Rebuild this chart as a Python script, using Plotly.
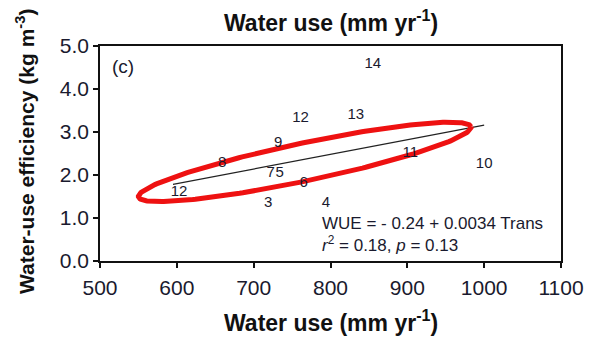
import numpy as np
import plotly.graph_objects as go

# ---- data ----
site_labels = ["12", "8", "9", "7", "5", "6", "3", "4", "12", "13", "14", "11", "10"]
water_use = [603, 659, 732, 722, 734, 765, 719, 794, 761, 833, 855, 904, 1000]
wue = [1.60, 2.28, 2.74, 2.05, 2.05, 1.81, 1.35, 1.35, 3.33, 3.40, 4.58, 2.51, 2.26]

fit_intercept = -0.24
fit_slope = 0.0034
fit_x_range = [595, 1000]

x_ticks = [500, 600, 700, 800, 900, 1000, 1100]
y_ticks = [0.0, 1.0, 2.0, 3.0, 4.0, 5.0]

# highlight ellipse (data units for tips, pixel half thickness)
ellipse_tip_left = (550, 1.49)
ellipse_tip_right = (983, 3.12)
ellipse_half_thickness_px = 19

W, H = 596, 337
ML, MR, MT, MB = 100, 29, 46, 76
XR = [500, 1100]
YR = [0, 5]
pw = W - ML - MR
ph = H - MT - MB
sx = pw / (XR[1] - XR[0])
sy = ph / (YR[1] - YR[0])

font_family = "Liberation Sans, Arial, sans-serif"
txt_color = "#1a1a2e"

fig = go.Figure()

# regression line
fx = np.array(fit_x_range, dtype=float)
fy = fit_intercept + fit_slope * fx
fig.add_trace(go.Scatter(x=fx, y=fy, mode="lines",
                         line=dict(color="#222222", width=1.2),
                         hoverinfo="skip", showlegend=False))

# ellipse in pixel space -> data
p1 = np.array([(ellipse_tip_left[0] - XR[0]) * sx, ellipse_tip_left[1] * sy])
p2 = np.array([(ellipse_tip_right[0] - XR[0]) * sx, ellipse_tip_right[1] * sy])
c = (p1 + p2) / 2
a = np.linalg.norm(p2 - p1) / 2
th = np.arctan2(p2[1] - p1[1], p2[0] - p1[0])
b = ellipse_half_thickness_px
t = np.linspace(0, 2 * np.pi, 300)
ex = c[0] + a * np.cos(t) * np.cos(th) - b * np.sin(t) * np.sin(th)
ey = c[1] + a * np.cos(t) * np.sin(th) + b * np.sin(t) * np.cos(th)
fig.add_trace(go.Scatter(x=XR[0] + ex / sx, y=ey / sy, mode="lines",
                         line=dict(color="#ee1111", width=5),
                         hoverinfo="skip", showlegend=False))

# site labels
fig.add_trace(go.Scatter(x=water_use, y=wue, mode="text", text=site_labels,
                         textposition="middle center",
                         textfont=dict(family=font_family, size=15, color=txt_color),
                         showlegend=False))

axis_common = dict(
    showline=True, linecolor="#111111", linewidth=1.5, mirror=True,
    ticks="outside", ticklen=5, tickcolor="#111111", tickwidth=1.5,
    showgrid=False, zeroline=False,
    tickfont=dict(family=font_family, size=21, color=txt_color),
)

fig.update_layout(
    width=W, height=H,
    margin=dict(l=ML, r=MR, t=MT, b=MB),
    paper_bgcolor="white", plot_bgcolor="white",
    xaxis=dict(range=XR, tickvals=x_ticks, ticktext=[str(v) for v in x_ticks],
               ticklabelstandoff=2, **axis_common),
    yaxis=dict(range=YR, tickvals=y_ticks, ticktext=[f"{v:.1f}" for v in y_ticks],
               **axis_common),
    annotations=[
        dict(text="(c)", x=530, y=(261 - 66) / sy, xref="x", yref="y",
             showarrow=False, xanchor="center", yanchor="middle",
             font=dict(family=font_family, size=19, color=txt_color)),
        dict(text="WUE = - 0.24 + 0.0034 Trans", x=786, y=0.88, xref="x", yref="y",
             showarrow=False, xanchor="left", yanchor="middle",
             font=dict(family=font_family, size=17, color=txt_color)),
        dict(text="<i>r</i><sup>2</sup> = 0.18, <i>p</i> = 0.13", x=786, y=0.40, xref="x", yref="y",
             showarrow=False, xanchor="left", yanchor="middle",
             font=dict(family=font_family, size=17, color=txt_color)),
        dict(text="<b>Water use (mm yr<sup>-1</sup>)</b>", x=0.5, y=(MT + ph - 21) / ph,
             xref="paper", yref="paper", yanchor="middle", xanchor="center",
             showarrow=False, font=dict(family=font_family, size=23, color="#111111")),
        dict(text="<b>Water use (mm yr<sup>-1</sup>)</b>", x=0.5, y=-(321 - MT - ph) / ph,
             xref="paper", yref="paper", yanchor="middle", xanchor="center",
             showarrow=False, font=dict(family=font_family, size=23, color="#111111")),
        dict(text="<b>Water-use efficiency (kg m<sup>-3</sup>)</b>", x=-(ML - 24) / pw, y=(MT + ph - 151) / ph,
             xref="paper", yref="paper", yanchor="middle", xanchor="center", textangle=-90,
             showarrow=False, font=dict(family=font_family, size=21, color="#111111")),
    ],
)

fig.write_html("out.html")
